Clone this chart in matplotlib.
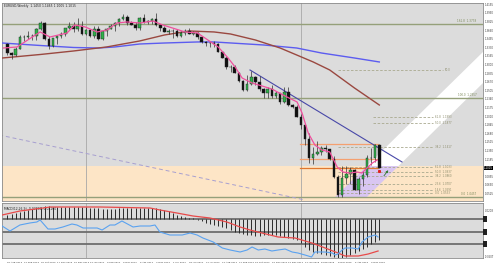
import matplotlib
matplotlib.use('Agg')
import matplotlib.pyplot as plt
from matplotlib.patches import Polygon, Rectangle

# EURUSD weekly bars: bar 0 = 25 Aug 2013 ... bar 90 = 17 May 2015
opens = [1.3390, 1.3220, 1.3180, 1.3300, 1.3525, 1.3520, 1.3555, 1.3545, 1.3685, 1.3800,
         1.3490, 1.3365, 1.3500, 1.3555, 1.3590, 1.3705, 1.3740, 1.3675, 1.3745, 1.3590,
         1.3670, 1.3540, 1.3680, 1.3485, 1.3635, 1.3690, 1.3740, 1.3800, 1.3875, 1.3910,
         1.3790, 1.3750, 1.3705, 1.3885, 1.3810, 1.3830, 1.3870, 1.3755, 1.3700, 1.3630,
         1.3635, 1.3640, 1.3540, 1.3600, 1.3645, 1.3595, 1.3605, 1.3525, 1.3430, 1.3410,
         1.3410, 1.3400, 1.3240, 1.3130, 1.2950, 1.2960, 1.2830, 1.2685, 1.2520, 1.2630,
         1.2760, 1.2670, 1.2525, 1.2450, 1.2525, 1.2390, 1.2450, 1.2285, 1.2465, 1.2230,
         1.2190, 1.2000, 1.1840, 1.1565, 1.1205, 1.1290, 1.1315, 1.1390, 1.1380, 1.1195,
         1.0840, 1.0495, 1.0825, 1.0890, 1.0970, 1.0600, 1.0805, 1.0870, 1.1200, 1.1200,
         1.1450]
highs = [1.3415, 1.3240, 1.3340, 1.3570, 1.3560, 1.3645, 1.3590, 1.3705, 1.3830, 1.3815,
         1.3545, 1.3500, 1.3570, 1.3620, 1.3710, 1.3810, 1.3810, 1.3895, 1.3830, 1.3690,
         1.3685, 1.3740, 1.3740, 1.3645, 1.3700, 1.3770, 1.3825, 1.3900, 1.3965, 1.3945,
         1.3835, 1.3810, 1.3905, 1.3965, 1.3850, 1.3890, 1.3993, 1.3775, 1.3735, 1.3680,
         1.3675, 1.3675, 1.3645, 1.3680, 1.3700, 1.3640, 1.3625, 1.3530, 1.3445, 1.3440,
         1.3445, 1.3405, 1.3245, 1.3165, 1.2995, 1.3000, 1.2860, 1.2700, 1.2790, 1.2885,
         1.2780, 1.2780, 1.2545, 1.2575, 1.2600, 1.2500, 1.2455, 1.2570, 1.2570, 1.2250,
         1.2220, 1.2045, 1.1870, 1.1680, 1.1425, 1.1535, 1.1445, 1.1450, 1.1385, 1.1240,
         1.0880, 1.1045, 1.1050, 1.1035, 1.1000, 1.0850, 1.0950, 1.1265, 1.1390, 1.1465,
         1.1465]
lows = [1.3180, 1.3105, 1.3160, 1.3290, 1.3460, 1.3495, 1.3470, 1.3480, 1.3670, 1.3480,
        1.3295, 1.3340, 1.3400, 1.3510, 1.3540, 1.3680, 1.3625, 1.3650, 1.3575, 1.3570,
        1.3530, 1.3505, 1.3480, 1.3475, 1.3555, 1.3685, 1.3640, 1.3730, 1.3850, 1.3750,
        1.3750, 1.3670, 1.3670, 1.3800, 1.3775, 1.3785, 1.3745, 1.3645, 1.3615, 1.3585,
        1.3500, 1.3525, 1.3525, 1.3560, 1.3580, 1.3575, 1.3490, 1.3420, 1.3365, 1.3335,
        1.3330, 1.3240, 1.3130, 1.2920, 1.2860, 1.2835, 1.2670, 1.2500, 1.2500, 1.2615,
        1.2615, 1.2500, 1.2355, 1.2360, 1.2360, 1.2360, 1.2245, 1.2265, 1.2200, 1.2165,
        1.1985, 1.1755, 1.1460, 1.1115, 1.1095, 1.1260, 1.1270, 1.1315, 1.1175, 1.0820,
        1.0460, 1.0460, 1.0710, 1.0710, 1.0590, 1.0520, 1.0660, 1.0845, 1.1080, 1.1135,
        1.1005]
closes = [1.3220, 1.3180, 1.3300, 1.3525, 1.3520, 1.3555, 1.3545, 1.3685, 1.3800, 1.3490,
          1.3365, 1.3500, 1.3555, 1.3590, 1.3705, 1.3740, 1.3675, 1.3745, 1.3590, 1.3670,
          1.3540, 1.3680, 1.3485, 1.3635, 1.3690, 1.3740, 1.3800, 1.3875, 1.3910, 1.3790,
          1.3750, 1.3705, 1.3885, 1.3810, 1.3830, 1.3870, 1.3755, 1.3700, 1.3630, 1.3635,
          1.3640, 1.3540, 1.3600, 1.3645, 1.3595, 1.3605, 1.3525, 1.3430, 1.3410, 1.3410,
          1.3400, 1.3240, 1.3130, 1.2950, 1.2960, 1.2830, 1.2685, 1.2520, 1.2630, 1.2760,
          1.2670, 1.2525, 1.2450, 1.2525, 1.2390, 1.2450, 1.2285, 1.2465, 1.2230, 1.2190,
          1.2000, 1.1840, 1.1565, 1.1205, 1.1290, 1.1315, 1.1390, 1.1380, 1.1195, 1.0840,
          1.0495, 1.0825, 1.0890, 1.0970, 1.0600, 1.0805, 1.0870, 1.1200, 1.1200, 1.1450,
          1.1015]

# moving averages (bar index, price)
blue_idx = [-1.3, 8, 16, 22, 26, 32, 38, 46, 50, 62, 70, 76, 84, 90]
blue_ma = [1.3413, 1.3365, 1.3327, 1.3317, 1.3337, 1.3394, 1.3413, 1.3433, 1.3433,
           1.3375, 1.3317, 1.3221, 1.3125, 1.3049]
brown_idx = [-1.3, 8, 16, 24, 32, 38, 44, 50, 54, 60, 66, 70, 74, 78, 84, 90]
brown_ma = [1.3125, 1.3193, 1.3260, 1.3337, 1.3452, 1.3567, 1.3644, 1.3625, 1.3586,
            1.3471, 1.3317, 1.3183, 1.3049, 1.2895, 1.2549, 1.2223]
pink_idx = [-1, 2.3, 7.9, 10.3, 14.4, 16.3, 18.8, 21.7, 24.1, 26.5, 28.9, 32.1, 35.2, 37.6,
            43, 46, 48.5, 51, 53.4, 55.1, 56.8, 59.2, 61.6, 64, 66.7, 70.1, 71.3, 72.8,
            74.4, 76.1, 78, 79.8, 81.2, 82.9, 84.6, 85.8, 87, 88.3, 89.5]
pink_ma = [1.3317, 1.3337, 1.3625, 1.3529, 1.3605, 1.3759, 1.3721, 1.3625, 1.3663, 1.3797,
           1.3817, 1.3797, 1.3836, 1.3759, 1.3625, 1.3605, 1.3471, 1.3337, 1.3125, 1.2953,
           1.2741, 1.2645, 1.2588, 1.2530, 1.2415, 1.2281, 1.2069, 1.1685, 1.1455, 1.1359,
           1.1321, 1.1033, 1.0937, 1.0917, 1.0937, 1.0917, 1.1013, 1.1109, 1.1167]

# drawn objects
trend_idx = [58.7, 95.5]
trend_px = [1.2895, 1.1129]
dash_idx = [-2, 72]
dash_px = [1.1647, 1.0400]
fe_levels = [1.3778, 1.2357, 1.0457]
fe_labels = ['161.8  1.3778', '100.0  1.2357', '0.0  1.0457']
fib_levels = [1.2895, 1.1993, 1.1877, 1.1417, 1.1033, 1.0937, 1.0860, 1.0707, 1.0591, 1.0533]
fib_start = [80, 88.5, 88.5, 80, 80, 80, 80, 80, 80, 80]
fib_end = [105.4, 103, 103, 103, 103, 103, 103, 103, 103, 103]
fib_labels = ['50.0', '61.8  1.1993', '50.0  1.1877', '38.2  1.1417', '61.8  1.1033',
              '50.0  1.0937', '38.2  1.0860', '23.6  1.0707', '14.6  1.0591', '0.0  1.0533']
orange_levels = [1.1474, 1.1186, 1.1013]
orange_colors = ['#f4a070', '#f4a070', '#e07830']
band_idx = [79.3, 115.1, 115.1, 87.0]
band_px = [1.0457, 1.3241, 1.2645, 1.0457]
zone_top = 1.1052
separators = [19, 71]

# MACD(12,26,9) window
hist = [0.0052, 0.0065, 0.0078, 0.0091, 0.0104, 0.0117, 0.0130, 0.0143, 0.0156, 0.0169,
        0.0163, 0.0156, 0.0156, 0.0156, 0.0156, 0.0156, 0.0156, 0.0156, 0.0156, 0.0150,
        0.0143, 0.0143, 0.0137, 0.0130, 0.0130, 0.0130, 0.0130, 0.0137, 0.0143, 0.0143,
        0.0143, 0.0143, 0.0143, 0.0143, 0.0143, 0.0143, 0.0137, 0.0130, 0.0117, 0.0104,
        0.0078, 0.0052, 0.0039, 0.0026, 0.0013, 0.0007, -0.0007, -0.0026, -0.0046, -0.0065,
        -0.0078, -0.0091, -0.0104, -0.0117, -0.0143, -0.0169, -0.0182, -0.0195, -0.0208, -0.0208,
        -0.0215, -0.0215, -0.0208, -0.0208, -0.0208, -0.0208, -0.0221, -0.0234, -0.0247, -0.0260,
        -0.0273, -0.0312, -0.0364, -0.0403, -0.0429, -0.0442, -0.0455, -0.0468, -0.0475, -0.0488,
        -0.0507, -0.0507, -0.0494, -0.0468, -0.0442, -0.0416, -0.0390, -0.0364, -0.0325, -0.0299,
        -0.0273]
sig_idx = [-1.3, 3.0, 8.6, 10.3, 22.4, 34.5, 36.9, 41.0, 44.9, 49.0, 53.1, 56.3, 58.7,
           61.6, 65.5, 69.6, 73.7, 76.9, 80.0, 81.7, 84.9, 87.3, 89.7]
signal = [0.0052, 0.0104, 0.0143, 0.0156, 0.0156, 0.0143, 0.0117, 0.0078, 0.0039, 0.0013,
          -0.0039, -0.0104, -0.0143, -0.0182, -0.0234, -0.0247, -0.0312, -0.0377, -0.0442,
          -0.0481, -0.0481, -0.0455, -0.0416]
osc_idx = [-1.3, 0.6, 3.0, 5.4, 7.1, 7.9, 9.8, 11.5, 13.4, 15.6, 16.8, 18.3, 21.7, 22.9,
           24.8, 26.0, 27.7, 30.4, 32.1, 34.5, 35.7, 36.9, 39.3, 42.3, 44.2, 45.9, 47.3,
           49.8, 52.0, 53.9, 56.3, 58.0, 59.2, 60.7, 62.3, 64.0, 65.5, 67.2, 68.9, 70.3,
           72.0, 73.6, 74.4, 76.9, 78.6, 79.3, 80.0, 81.0, 81.7, 83.4, 84.9, 85.8, 87.3,
           89.0, 89.7]
osc = [-0.0091, -0.0156, -0.0078, -0.0052, -0.0039, -0.0013, -0.0130, -0.0130, -0.0104,
       -0.0065, -0.0078, -0.0117, -0.0117, -0.0143, -0.0078, -0.0078, -0.0026, -0.0104,
       -0.0091, -0.0091, -0.0078, -0.0169, -0.0208, -0.0208, -0.0182, -0.0208, -0.0247,
       -0.0299, -0.0377, -0.0403, -0.0429, -0.0403, -0.0364, -0.0403, -0.0390, -0.0416,
       -0.0403, -0.0390, -0.0429, -0.0442, -0.0468, -0.0494, -0.0429, -0.0429, -0.0442,
       -0.0468, -0.0455, -0.0403, -0.0377, -0.0377, -0.0390, -0.0299, -0.0234, -0.0208,
       -0.0234]
ind_levels = [0.0, -0.0169, -0.0325]

date_labels = ['25 Aug 2013', '22 Sep 2013', '20 Oct 2013', '17 Nov 2013', '15 Dec 2013',
               '12 Jan 2014', '9 Feb 2014', '9 Mar 2014', '6 Apr 2014', '4 May 2014',
               '1 Jun 2014', '29 Jun 2014', '27 Jul 2014', '24 Aug 2014', '21 Sep 2014',
               '19 Oct 2014', '16 Nov 2014', '14 Dec 2014', '11 Jan 2015', '8 Feb 2015',
               '8 Mar 2015', '5 Apr 2015', '3 May 2015']
price_ticks = [1.4155, 1.3990, 1.3825, 1.3660, 1.3495, 1.3330, 1.3165, 1.3000, 1.2835,
               1.2670, 1.2505, 1.2340, 1.2175, 1.2010, 1.1845, 1.1680, 1.1515, 1.1350,
               1.1185, 1.0855, 1.0690, 1.0525]

BG = '#dcdcdc'
XMIN, XMAX = -1.33, 115.1

fig = plt.figure(figsize=(4.95, 2.68), dpi=100)
ax = fig.add_axes([2/495, 67/268, 481/495, 198/268])
ax2 = fig.add_axes([2/495, 10/268, 481/495, 55/268])

for a in (ax, ax2):
    a.set_facecolor(BG)
    a.set_xlim(XMIN, XMAX)
    a.set_xticks([])
    for s in a.spines.values():
        s.set_color('#8a8a8a')
        s.set_linewidth(0.6)
    a.yaxis.tick_right()
    a.tick_params(axis='y', labelsize=1.9, length=0.8, width=0.3, pad=0.4,
                  labelcolor='#404040', color='#606060')
    for sx in separators:
        a.axvline(sx, color='#a8a8a8', lw=0.6, zorder=1)

ax.set_ylim(1.0380, 1.4181)
ax.set_yticks(price_ticks)
ax.set_yticklabels([f'{p:.4f}' for p in price_ticks])

# support zone and channel
ax.axhspan(0, zone_top, color='#fde5c6', zorder=0.5, lw=0)
pts = list(zip(band_idx, band_px))
band_w = Polygon(pts, closed=True, facecolor='white', edgecolor='none', zorder=1.5)
band_l = Polygon(pts, closed=True, facecolor='#d9c6f2', edgecolor='none', zorder=1.5)
ax.add_patch(band_w)
ax.add_patch(band_l)
band_w.set_clip_path(Rectangle((XMIN, zone_top), XMAX - XMIN, 1, transform=ax.transData))
band_l.set_clip_path(Rectangle((XMIN, 0.9), XMAX - XMIN, zone_top - 0.9, transform=ax.transData))

for lvl, lab in zip(fe_levels, fe_labels):
    ax.axhline(lvl, color='#95a07a', lw=1.0, zorder=2)
    ax.text(113.5, lvl + 0.002, lab, fontsize=2.0, color='#7c8a5a', ha='right', va='bottom')

for lvl, x0, x1, lab in zip(fib_levels, fib_start, fib_end, fib_labels):
    ax.plot([x0, x1], [lvl, lvl], color='#a9a98f', lw=0.6, ls=(0, (3, 2)), zorder=2)
    ax.text(x1 + 0.5, lvl, lab, fontsize=1.9, color='#8c8c6c', va='center')

for lvl, c in zip(orange_levels, orange_colors):
    ax.plot([70.8, 89.7], [lvl, lvl], color=c, lw=0.9, zorder=2.2)

ax.plot(dash_idx, dash_px, color='#a79fd0', lw=0.7, ls=(0, (4, 3)), zorder=2)
ax.plot(blue_idx, blue_ma, color='#5c5cf0', lw=1.0, zorder=3)
ax.plot(brown_idx, brown_ma, color='#9a4840', lw=1.0, zorder=3)
ax.plot(trend_idx, trend_px, color='#4848a8', lw=0.8, zorder=3)

# candles
bars = list(range(len(opens)))
ax.vlines(bars, lows, highs, color='#303030', lw=0.5, zorder=4)
for i, o, c in zip(bars, opens, closes):
    up = c >= o
    h = max(abs(c - o), 0.0008)
    ax.bar(i, h, bottom=min(o, c), width=0.62, color='#2fb04a' if up else '#101010',
           edgecolor='#202020', lw=0.3, zorder=5)
ax.plot(pink_idx, pink_ma, color='#f0509e', lw=0.9, zorder=6)

ax.annotate('', xy=(92.6, 1.1013), xytext=(90.7, 1.0821),
            arrowprops=dict(arrowstyle='-|>', color='#2e7a2e', lw=0.6, mutation_scale=3), zorder=6)
ax.plot([90.0], [1.0956], 's', color='#e02020', ms=1.2, zorder=6)

ax.text(0.004, 0.993, 'EURUSD,Weekly  1.1450 1.1465 1.1005 1.1015', transform=ax.transAxes,
        fontsize=2.2, color='#202020', va='top')
ax.text(1.002, 1.1015, '1.1015', transform=ax.get_yaxis_transform(), fontsize=1.9,
        color='white', va='center', bbox=dict(boxstyle='square,pad=0.1', fc='black', ec='none'))

# MACD window
ax2.set_ylim(-0.0507, 0.0208)
ax2.set_yticks([])
for lvl in ind_levels:
    ax2.axhline(lvl, color='#6e6e6e', lw=1.3, zorder=2)
    ax2.text(1.003, lvl, ' ', transform=ax2.get_yaxis_transform(), fontsize=2.4,
             va='center', bbox=dict(boxstyle='square,pad=0.3', fc='#202020', ec='none'))
ax2.vlines(bars, 0, hist, color='#2a2a2a', lw=0.7, zorder=3)
ax2.plot(sig_idx, signal, color='#e84a4a', lw=0.9, zorder=4)
ax2.plot(osc_idx, osc, color='#5aa2f0', lw=0.8, zorder=4)
ax2.text(0.004, 0.93, 'MACD(12,26,9) -0.02730 -0.04160', transform=ax2.transAxes,
         fontsize=2.2, color='#202020', va='top')
ax2.text(1.003, 0.84, '0.0208', transform=ax2.transAxes, fontsize=1.9, color='#404040')
ax2.text(1.003, 0.0, '-0.0507', transform=ax2.transAxes, fontsize=1.8, color='#404040')

for k, lab in enumerate(date_labels):
    ax2.text(bars[k * 4], -0.07, lab, transform=ax2.get_xaxis_transform(),
             fontsize=1.7, color='#303030', va='top')

fig.savefig('out.png', dpi=100, facecolor='white')
